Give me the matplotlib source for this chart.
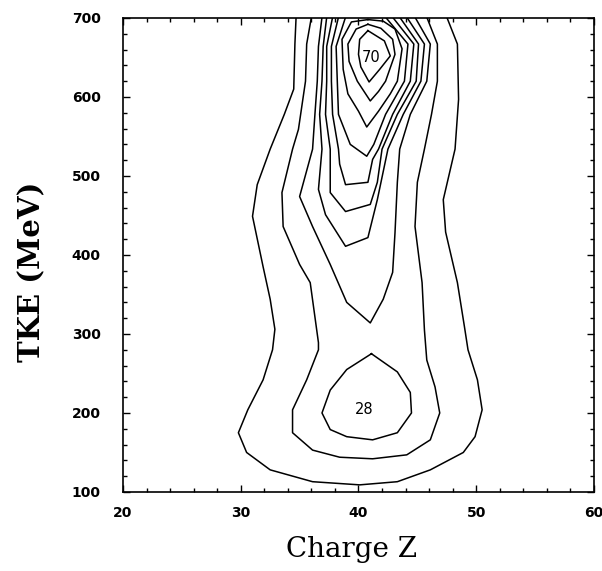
import numpy as np
import matplotlib as mpl
import matplotlib.pyplot as plt
from matplotlib.ticker import MultipleLocator


# Contour lines, as (charge Z, TKE in MeV).
# Outer contours are open at the top of the frame, the two peaks are closed.
OUTER_1_Z = [34.7, 34.6, 34.5, 33.7, 32.5, 31.4, 31.0, 31.9, 32.5, 32.9, 32.7,
             31.9, 30.6, 29.8, 30.5, 32.5, 36.1, 40.1, 43.3, 46.1, 48.9, 49.9,
             50.5, 50.1, 49.3, 49.0, 48.4, 47.4, 47.2, 48.2, 48.5, 48.4, 47.5]
OUTER_1_TKE = [701, 667, 610, 578, 534, 489, 449, 385, 344, 306, 280,
               242, 204, 175, 150, 128, 113, 109, 113, 128, 150, 170,
               204, 242, 280, 309, 365, 429, 470, 534, 597, 667, 701]

OUTER_2_Z = [36.0, 35.6, 35.5, 34.9, 34.4, 33.5, 33.6, 35.0, 35.9, 36.6, 36.6,
             35.6, 34.4, 34.4, 36.1, 38.4, 41.2, 44.1, 46.1, 46.9, 46.5, 45.8,
             45.6, 45.4, 44.8, 45.0, 45.6, 46.2, 46.7, 46.7, 45.8]
OUTER_2_TKE = [701, 667, 620, 559, 534, 479, 436, 388, 365, 289, 280,
               242, 204, 175, 153, 144, 142, 147, 166, 200, 233, 267,
               305, 365, 436, 492, 534, 578, 620, 667, 701]

# lower peak, labelled 28
LOW_PEAK_Z = [41.1, 39.0, 37.6, 36.9, 37.6, 39.0, 41.2, 43.3, 44.5, 44.4, 43.3, 41.1]
LOW_PEAK_TKE = [275, 255, 229, 200, 179, 170, 166, 175, 200, 226, 252, 275]

# upper ridge, from the cusp contour inwards to the peak labelled 70
UPPER_Z = [
    [36.9, 36.6, 36.5, 36.3, 36.1, 35.0, 36.1, 37.6, 39.0, 41.0, 42.1, 42.9,
     43.1, 43.3, 43.5, 44.4, 45.8, 46.1, 44.8],
    [37.3, 37.0, 36.9, 36.7, 36.9, 36.6, 37.2, 38.9, 40.8, 41.6, 42.5, 43.8,
     45.3, 45.6, 44.1],
    [37.8, 37.3, 37.3, 37.2, 37.6, 37.6, 38.9, 41.0, 41.6, 42.0, 43.3, 44.9,
     45.1, 43.5],
    [38.3, 37.7, 37.7, 37.8, 38.3, 38.4, 38.9, 40.8, 41.2, 41.7, 42.9, 44.4,
     44.7, 42.9],
    [38.9, 38.1, 38.2, 38.3, 39.3, 40.7, 41.3, 42.3, 43.9, 44.2, 42.3],
    [40.8, 39.4, 38.6, 38.7, 39.1, 40.0, 40.7, 41.7, 42.7, 43.3, 43.7, 43.1,
     42.1, 40.8],
    [40.8, 39.8, 39.1, 39.2, 39.9, 41.0, 41.7, 42.3, 43.1, 42.9, 41.9, 40.8],
    [40.8, 40.1, 40.0, 40.2, 40.9, 41.8, 42.7, 42.2, 40.8],
]
UPPER_TKE = [
    [701, 664, 620, 578, 534, 474, 436, 388, 340, 314, 344, 378,
     428, 492, 534, 578, 620, 667, 701],
    [701, 664, 620, 578, 534, 483, 451, 411, 422, 470, 534, 578,
     620, 667, 701],
    [701, 664, 620, 578, 534, 479, 455, 464, 492, 534, 578, 620,
     667, 701],
    [701, 664, 620, 578, 534, 515, 489, 492, 521, 534, 578, 620,
     667, 701],
    [701, 664, 620, 578, 540, 525, 540, 578, 620, 667, 701],
    [698, 695, 673, 635, 604, 582, 562, 582, 604, 620, 661, 686,
     696, 698],
    [692, 686, 667, 645, 620, 595, 607, 620, 654, 673, 687, 692],
    [684, 673, 654, 638, 619, 635, 652, 671, 684],
]

PEAK_LABELS = ["70", "28"]
PEAK_LABEL_Z = [41.1, 40.5]
PEAK_LABEL_TKE = [650, 204]

X_RANGE = (20, 60)
Y_RANGE = (100, 700)


def set_style():
    mpl.rcParams.update({
        "font.family": "sans-serif",
        "font.sans-serif": ["DejaVu Sans"],
        "axes.linewidth": 1.2,
        "lines.linewidth": 1.1,
    })


def plot_contours():
    fig = plt.figure(figsize=(6.02, 5.71), dpi=100)
    ax = fig.add_axes([0.2043, 0.1384, 0.7824, 0.8301])

    lines = [(OUTER_1_Z, OUTER_1_TKE), (OUTER_2_Z, OUTER_2_TKE),
             (LOW_PEAK_Z, LOW_PEAK_TKE)]
    lines += list(zip(UPPER_Z, UPPER_TKE))
    for z, tke in lines:
        ax.plot(np.array(z), np.array(tke), color="black", lw=1.1)

    for text, z, tke in zip(PEAK_LABELS, PEAK_LABEL_Z, PEAK_LABEL_TKE):
        ax.text(z, tke, text, ha="center", va="center", fontsize=10.5,
                color="black")

    ax.set_xlim(*X_RANGE)
    ax.set_ylim(*Y_RANGE)
    ax.xaxis.set_major_locator(MultipleLocator(10))
    ax.xaxis.set_minor_locator(MultipleLocator(2))
    ax.yaxis.set_major_locator(MultipleLocator(100))
    ax.yaxis.set_minor_locator(MultipleLocator(20))
    ax.tick_params(which="both", direction="in", top=True, right=True,
                   width=1.0, labelsize=10)
    ax.tick_params(which="major", length=5)
    ax.tick_params(which="minor", length=3)
    ax.tick_params(axis="y", pad=16)
    ax.tick_params(axis="x", pad=10)
    for lab in ax.get_xticklabels() + ax.get_yticklabels():
        lab.set_fontweight("bold")

    ax.set_xlabel("Charge Z", family="DejaVu Serif", fontsize=20)
    ax.set_ylabel("TKE (MeV)", family="DejaVu Serif", fontsize=21,
                  fontweight="bold")
    ax.xaxis.set_label_coords(0.486, -0.093)
    ax.yaxis.set_label_coords(-0.163, 0.464)

    fig.savefig("out.png", dpi=100)
    plt.close(fig)


def main():
    set_style()
    plot_contours()


if __name__ == "__main__":
    main()
